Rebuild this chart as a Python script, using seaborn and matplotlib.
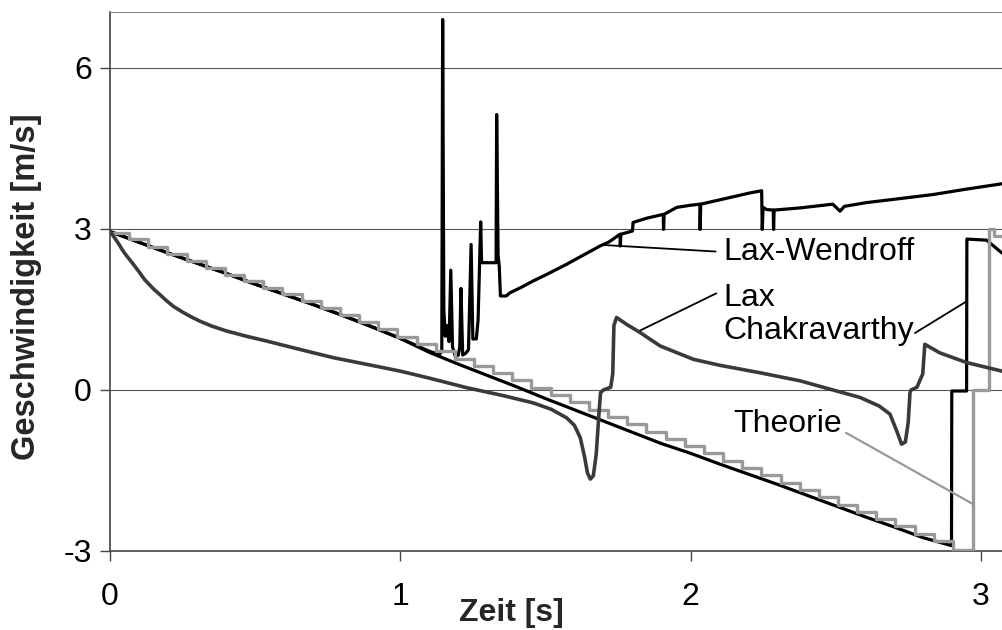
import matplotlib
matplotlib.use("Agg")
import matplotlib.pyplot as plt
import seaborn as sns

# ---------------- data ----------------
x_ticks = [0, 1, 2, 3]
x_ticklabels = ["0", "1", "2", "3"]
y_ticks = [-3, 0, 3, 6]
y_ticklabels = ["-3", "0", "3", "6"]

# Theorie (grey staircase, steps-post)
theory_t = [0.000, 0.066, 0.132, 0.198, 0.264, 0.330, 0.396, 0.462, 0.528, 0.594,
            0.660, 0.726, 0.792, 0.858, 0.924, 0.990, 1.056, 1.122, 1.188, 1.254,
            1.320, 1.386, 1.452, 1.518, 1.584, 1.650, 1.716, 1.782, 1.848, 1.914,
            1.980, 2.046, 2.112, 2.178, 2.244, 2.310, 2.376, 2.442, 2.508, 2.574,
            2.640, 2.706, 2.772, 2.838, 2.904, 2.974, 3.029, 3.045, 3.080]
theory_v = [2.93, 2.81, 2.66, 2.54, 2.40, 2.28, 2.15, 2.03, 1.90, 1.78,
            1.66, 1.52, 1.40, 1.26, 1.13, 0.99, 0.86, 0.72, 0.58, 0.45,
            0.31, 0.18, 0.04, -0.10, -0.23, -0.37, -0.50, -0.64, -0.78, -0.91,
            -1.05, -1.18, -1.32, -1.46, -1.59, -1.73, -1.86, -2.00, -2.14, -2.27,
            -2.41, -2.54, -2.68, -2.82, -2.98, 0.00, 2.99, 2.87, 2.87]

# unlabeled black reference curve (follows the theory)
ref_t = [0.0, 0.1, 0.2, 0.3, 0.4, 0.5, 0.6, 0.7, 0.8, 0.9,
         1.0, 1.1, 1.2, 1.3, 1.4, 1.5, 1.6, 1.7, 1.8, 1.9,
         2.0, 2.1, 2.2, 2.3, 2.4, 2.5, 2.6, 2.7, 2.8,
         2.899, 2.900, 2.951, 2.952, 3.02, 3.073]
ref_v = [2.95, 2.75, 2.55, 2.36, 2.17, 1.97, 1.78, 1.59, 1.39, 1.18,
         0.96, 0.70, 0.48, 0.27, 0.06, -0.16, -0.37, -0.58, -0.79, -1.00,
         -1.18, -1.38, -1.57, -1.76, -1.96, -2.16, -2.36, -2.55, -2.75,
         -2.90, -0.02, -0.02, 2.81, 2.79, 2.55]

# Lax-Wendroff (black, unstable)
lw_t = [0.0, 0.1, 0.2, 0.3, 0.4, 0.5, 0.6, 0.7, 0.8, 0.9,
        1.0, 1.1, 1.135, 1.143, 1.146, 1.150, 1.155, 1.160, 1.168, 1.174,
        1.180, 1.190, 1.200, 1.205, 1.209, 1.215, 1.225, 1.235, 1.244, 1.250,
        1.262, 1.268, 1.277, 1.280, 1.330, 1.332, 1.337, 1.341, 1.345, 1.365,
        1.378, 1.42, 1.458, 1.50, 1.573, 1.62, 1.688, 1.72, 1.757, 1.758,
        1.760, 1.80, 1.802, 1.85, 1.906, 1.907, 1.909, 1.952, 2.00, 2.032,
        2.033, 2.035, 2.10, 2.205, 2.245, 2.247, 2.250, 2.262, 2.285, 2.286,
        2.288, 2.377, 2.49, 2.515, 2.53, 2.607, 2.70, 2.836, 2.95, 3.073]
lw_v = [2.95, 2.75, 2.55, 2.36, 2.17, 1.97, 1.78, 1.59, 1.39, 1.18,
        0.96, 0.72, 0.66, 0.72, 6.90, 1.50, 1.00, 1.20, 0.90, 2.23,
        0.80, 0.62, 0.65, 0.80, 1.89, 0.65, 0.68, 0.75, 2.71, 0.95,
        0.95, 1.30, 3.13, 2.37, 2.37, 5.13, 2.50, 2.30, 1.75, 1.75,
        1.81, 1.92, 2.03, 2.14, 2.34, 2.48, 2.68, 2.76, 2.90, 2.68,
        2.90, 2.96, 3.12, 3.20, 3.27, 2.99, 3.27, 3.40, 3.44, 3.46,
        2.99, 3.46, 3.54, 3.67, 3.71, 2.99, 3.40, 3.36, 3.35, 2.99,
        3.35, 3.39, 3.46, 3.33, 3.42, 3.49, 3.55, 3.64, 3.74, 3.84]

# Lax Chakravarthy (dark grey)
lc_t = [0.0, 0.01, 0.02, 0.03, 0.04, 0.05, 0.06, 0.079, 0.10, 0.12,
        0.15, 0.175, 0.195, 0.22, 0.25, 0.28, 0.31, 0.35, 0.40, 0.47,
        0.54, 0.65, 0.77, 0.90, 1.00, 1.10, 1.23, 1.35, 1.457, 1.52,
        1.573, 1.60, 1.62, 1.635, 1.645, 1.655, 1.665, 1.675, 1.685, 1.69,
        1.70, 1.725, 1.732, 1.736, 1.745, 1.78, 1.826, 1.895, 2.01, 2.10,
        2.239, 2.377, 2.49, 2.584, 2.65, 2.687, 2.71, 2.727, 2.74, 2.75,
        2.756, 2.76, 2.78, 2.80, 2.807, 2.859, 2.951, 3.073]
lc_v = [2.95, 2.88, 2.80, 2.72, 2.63, 2.55, 2.48, 2.35, 2.20, 2.05,
        1.88, 1.76, 1.66, 1.55, 1.45, 1.36, 1.28, 1.19, 1.10, 1.00,
        0.91, 0.76, 0.60, 0.46, 0.35, 0.22, 0.04, -0.10, -0.24, -0.36,
        -0.52, -0.66, -0.89, -1.25, -1.55, -1.66, -1.60, -1.20, -0.40, -0.05,
        0.00, 0.05, 0.30, 1.20, 1.35, 1.22, 1.07, 0.82, 0.57, 0.46,
        0.32, 0.17, 0.00, -0.14, -0.30, -0.45, -0.76, -1.01, -0.97, -0.60,
        -0.05, 0.00, 0.05, 0.30, 0.85, 0.69, 0.51, 0.35]

assert len(theory_t) == len(theory_v)
assert len(ref_t) == len(ref_v)
assert len(lw_t) == len(lw_v)
assert len(lc_t) == len(lc_v)

# ---------------- style ----------------
sns.set_theme(style="white")
plt.rcParams["font.family"] = ["Liberation Sans", "DejaVu Sans"]
plt.rcParams["axes.unicode_minus"] = False

fig = plt.figure(figsize=(10.02, 6.30), dpi=100)
ax = fig.add_axes([0.1098, 0.1254, 0.8902, 0.8556])

BLACK = "#000000"
GREY = "#999999"
DARK = "#3a3a3a"

sns.lineplot(x=lw_t, y=lw_v, ax=ax, estimator=None, sort=False,
             color=BLACK, lw=2.3, legend=False, zorder=3)
sns.lineplot(x=ref_t, y=ref_v, ax=ax, estimator=None, sort=False,
             color=BLACK, lw=2.3, legend=False, zorder=3)
sns.lineplot(x=theory_t, y=theory_v, ax=ax, estimator=None, sort=False,
             color=GREY, lw=2.4, drawstyle="steps-post", legend=False, zorder=4)
sns.lineplot(x=lc_t, y=lc_v, ax=ax, estimator=None, sort=False,
             color=DARK, lw=2.6, legend=False, zorder=5)

ax.set_xlim(0, 3.073)
ax.set_ylim(-3, 7.04)
ax.set_xticks(x_ticks)
ax.set_xticklabels(x_ticklabels)
ax.set_yticks(y_ticks)
ax.set_yticklabels(y_ticklabels)

ax.grid(False)
for yv in [0, 3, 6]:
    ax.axhline(yv, color="#555555", lw=0.8, zorder=1)

for side in ["left", "bottom"]:
    ax.spines[side].set_color("#444444")
    ax.spines[side].set_linewidth(1.2)
ax.spines["top"].set_color("#888888")
ax.spines["top"].set_linewidth(0.8)
ax.spines["right"].set_visible(False)

ax.tick_params(axis="both", which="major", direction="out", length=7,
               width=1.0, color="#444444", labelsize=23, labelcolor="black",
               left=True, bottom=True)
ax.tick_params(axis="y", pad=6)
ax.tick_params(axis="x", pad=15)

ax.set_xlabel("Zeit [s]", fontsize=23, fontweight="bold")
ax.xaxis.set_label_coords(0.45, -0.088)
ax.set_ylabel("Geschwindigkeit [m/s]", fontsize=23.5, fontweight="bold")
ax.yaxis.set_label_coords(-0.076, 0.49)

# ---------------- annotations ----------------
fs = 23
ax.annotate("Lax-Wendroff", xy=(1.699, 2.70), xytext=(2.112, 2.57),
            fontsize=fs, ha="left", va="center", color="black",
            arrowprops=dict(arrowstyle="-", color="black", lw=1.3,
                            relpos=(0, 0.5), shrinkA=3, shrinkB=0))
ax.text(2.112, 1.40, "Lax\nChakravarthy", fontsize=fs, ha="left",
        va="center", linespacing=1.12, color="black")
ax.annotate("", xy=(1.82, 1.09), xytext=(2.089, 1.80),
            arrowprops=dict(arrowstyle="-", color="black", lw=1.3,
                            shrinkA=0, shrinkB=0))
ax.annotate("", xy=(2.951, 1.65), xytext=(2.773, 1.06),
            arrowprops=dict(arrowstyle="-", color="black", lw=1.3,
                            shrinkA=0, shrinkB=0))
ax.annotate("Theorie", xy=(2.971, -2.12), xytext=(2.146, -0.64),
            fontsize=fs, ha="left", va="center", color="black",
            arrowprops=dict(arrowstyle="-", color=GREY, lw=1.6,
                            relpos=(1, 0.3), shrinkA=1, shrinkB=0))

fig.savefig("out.png", dpi=100)
